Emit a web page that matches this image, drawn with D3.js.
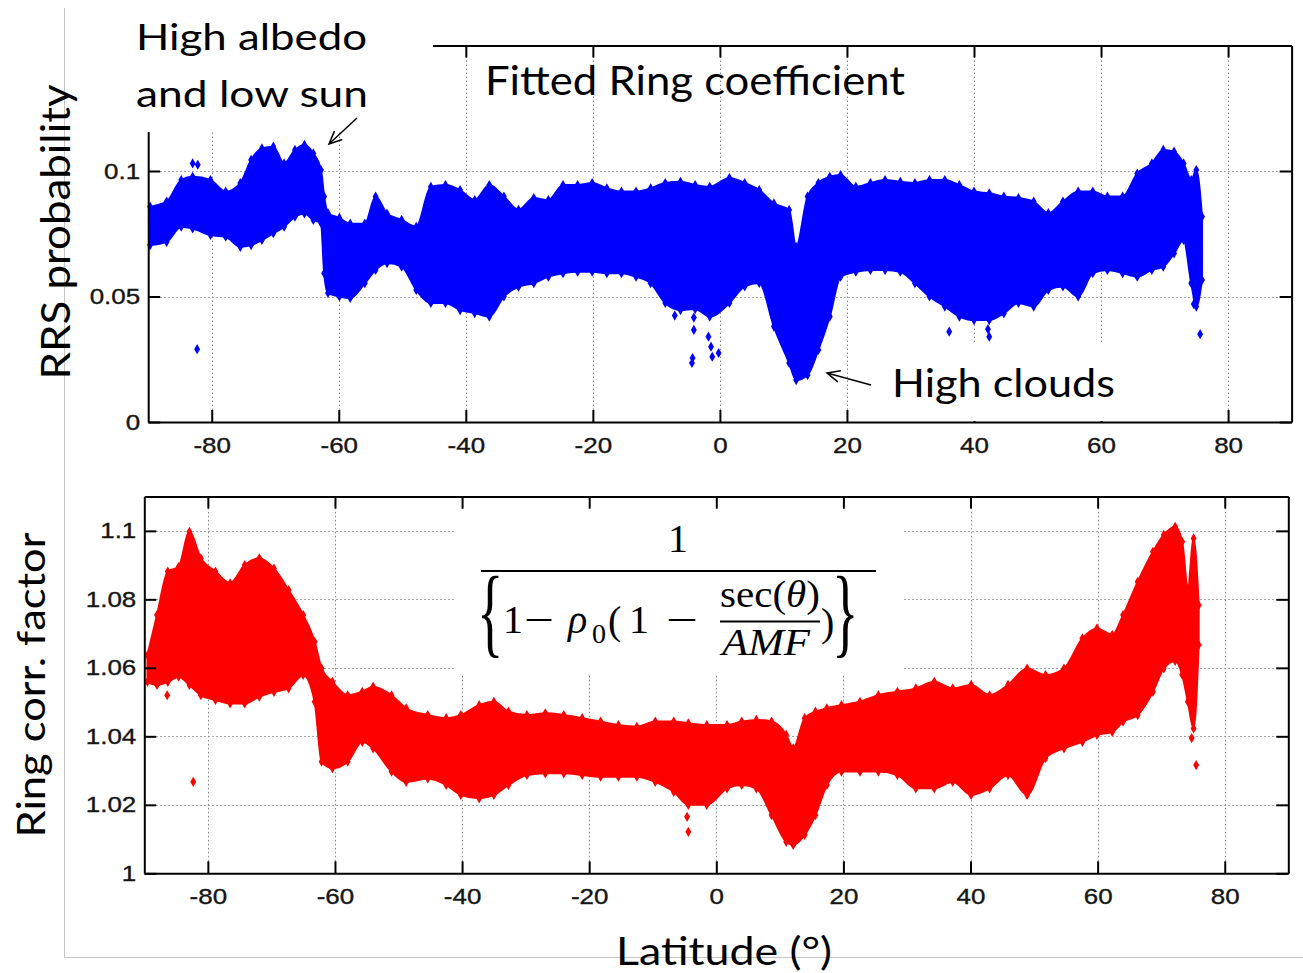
<!DOCTYPE html>
<html><head><meta charset="utf-8">
<script src="https://cdn.jsdelivr.net/npm/d3@7"></script>
<style>body{margin:0;background:#fff}svg{display:block}</style>
</head><body>
<svg id="c" width="1303" height="973"></svg>
<script>
// ---------- data ----------
const xTicks = [-80, -60, -40, -20, 0, 20, 40, 60, 80];
const rrsTicks = [0, 0.05, 0.1];
const ringTicks = [1, 1.02, 1.04, 1.06, 1.08, 1.1];

// Fitted Ring coefficient (RRS probability): envelope of the point cloud
const rrsLat  = [-89.7,-87.1,-84.8,-83.0,-80.2,-77.8,-75.5,-73.8,-72.1,-70.3,-68.6,-66.9,-65.4,-64.0,-62.8,-62.3,-61.7,-59.9,-58.2,-55.9,-54.2,-52.4,-50.1,-47.8,-45.5,-43.2,-40.9,-38.6,-36.3,-34.0,-31.7,-29.3,-27.0,-24.7,-22.4,-20.1,-17.8,-15.5,-13.2,-10.9,-8.6,-6.2,-3.9,-1.6,1.5,3.9,6.2,8.5,10.9,12.0,13.8,15.5,17.3,19.0,21.4,23.7,26.0,28.4,30.7,33.0,35.4,37.7,40.0,42.4,44.7,47.0,49.4,51.7,54.0,56.4,58.7,61.0,63.4,65.7,68.0,69.8,71.5,73.0,74.2,75.0,75.9];
const rrsHigh = [0.0858,0.0878,0.0964,0.0977,0.0964,0.0918,0.0952,0.1044,0.109,0.1097,0.103,0.1084,0.1104,0.107,0.1004,0.0898,0.0832,0.0813,0.079,0.079,0.0898,0.083,0.0805,0.0778,0.0937,0.0944,0.0924,0.0884,0.0944,0.0898,0.0845,0.0892,0.0884,0.0944,0.0944,0.0952,0.0931,0.0918,0.0918,0.0931,0.0952,0.0957,0.0944,0.0937,0.0972,0.0952,0.0924,0.0871,0.0845,0.0698,0.0898,0.0952,0.0977,0.0984,0.0937,0.0952,0.0964,0.0957,0.0952,0.0964,0.0964,0.0944,0.0918,0.0911,0.0898,0.0892,0.0878,0.0832,0.0878,0.0918,0.0918,0.0898,0.0898,0.099,0.103,0.1084,0.1077,0.103,0.0964,0.1004,0.0818];
const rrsLow  = [0.0705,0.0718,0.0778,0.0771,0.0745,0.0738,0.0698,0.0705,0.0725,0.0752,0.0778,0.0818,0.0831,0.0805,0.0793,0.0593,0.0514,0.05,0.0494,0.0553,0.0606,0.0633,0.0619,0.0526,0.0474,0.0474,0.0446,0.0434,0.042,0.05,0.0539,0.0553,0.0579,0.0593,0.0599,0.0599,0.0593,0.0593,0.0579,0.0553,0.0474,0.0446,0.045,0.042,0.0474,0.054,0.0554,0.038,0.0235,0.0167,0.0187,0.0287,0.042,0.0579,0.0599,0.0606,0.0606,0.0599,0.0553,0.05,0.046,0.042,0.0406,0.0406,0.0433,0.0474,0.046,0.0526,0.054,0.05,0.0593,0.0606,0.0593,0.0579,0.0606,0.0619,0.0672,0.0725,0.0553,0.046,0.0566];
// isolated points
const rrsOutLat = [-82.3,-83.0,-82.2,-7.1,-4.1,-4.1,-4.3,-4.4,-1.8,-1.4,-1.2,-0.2,36.1,42.4,42.2,75.6,74.6];
const rrsOutVal = [0.029,0.103,0.1025,0.0424,0.0416,0.0367,0.0255,0.0235,0.034,0.030,0.026,0.0275,0.036,0.034,0.037,0.035,0.047];

// Ring correction factor: envelope of the point cloud
const ringLat  = [-89.5,-88.0,-86.3,-84.6,-82.9,-81.1,-78.8,-76.5,-74.2,-71.9,-69.6,-67.3,-65.0,-63.2,-62.1,-60.4,-58.0,-55.7,-54.0,-51.1,-48.8,-45.4,-42.5,-40.2,-37.3,-35.0,-32.7,-29.8,-26.9,-24.0,-21.1,-18.2,-15.4,-12.5,-9.6,-6.7,-4.4,-1.5,1.7,4.0,6.3,8.7,11.0,12.1,13.9,15.6,17.4,19.7,22.6,25.5,28.5,31.4,34.3,37.2,40.1,43.0,45.9,48.9,51.8,54.7,57.6,59.9,62.3,64.0,66.3,68.7,70.4,72.2,73.3,74.2,75.1,75.9];
const ringHigh = [1.0637,1.0754,1.0881,1.0895,1.0997,1.092,1.0881,1.0847,1.09,1.092,1.089,1.0827,1.0754,1.0676,1.0598,1.0559,1.052,1.053,1.0545,1.052,1.0482,1.0462,1.0453,1.0462,1.0491,1.0501,1.0472,1.0462,1.0467,1.0462,1.0453,1.0443,1.0433,1.0428,1.0443,1.0443,1.0438,1.0433,1.0433,1.0443,1.0448,1.0443,1.0404,1.0365,1.0453,1.0472,1.0482,1.0491,1.0501,1.052,1.053,1.054,1.0559,1.054,1.055,1.052,1.055,1.0598,1.0579,1.0598,1.0686,1.0715,1.0696,1.0754,1.0851,1.0939,1.0988,1.1012,1.0968,1.0832,1.0978,1.0783];
const ringLow  = [1.0559,1.055,1.0559,1.0574,1.055,1.052,1.0506,1.0496,1.0496,1.0516,1.053,1.054,1.0579,1.0501,1.0326,1.0307,1.0326,1.0384,1.0365,1.0297,1.0267,1.0277,1.0258,1.0229,1.0219,1.0229,1.0258,1.0287,1.0292,1.0292,1.0287,1.0282,1.0282,1.0282,1.0267,1.0238,1.020,1.020,1.0248,1.0258,1.0248,1.017,1.0092,1.0083,1.0112,1.017,1.0258,1.0297,1.0297,1.0297,1.0287,1.0248,1.0248,1.0267,1.0229,1.0248,1.0287,1.0229,1.0336,1.0365,1.0384,1.0404,1.0413,1.0443,1.0462,1.053,1.0598,1.062,1.058,1.0501,1.0423,1.0667];
const ringOutLat = [-82.3,-86.4,-4.4,-4.6,75.5,74.8];
const ringOutVal = [1.0267,1.052,1.0121,1.0165,1.0316,1.0395];

// ---------- drawing ----------
const svg = d3.select('#c');
const SANS = 'Lato, "Open Sans", sans-serif';
const TICKF = '"Liberation Sans", Arial, sans-serif';
const SERIF = '"Liberation Serif", "DejaVu Serif", serif';

svg.append('rect').attr('width',1303).attr('height',973).attr('fill','#fff');

// light frame of the slide picture
svg.append('line').attr('x1',64.5).attr('x2',64.5).attr('y1',8).attr('y2',958).attr('stroke','#c4c4c4').attr('stroke-width',1);
svg.append('line').attr('x1',64).attr('x2',1303).attr('y1',957.5).attr('y2',957.5).attr('stroke','#c4c4c4').attr('stroke-width',1);

function panel(cfg) {
  const {x, y, yTicks, lat, lo, hi, outLat, outVal, color, fmt} = cfg;
  const g = svg.append('g');
  const [xa, xb] = x.range(), [ya, yb] = y.range();
  // grid
  const grid = g.append('g').attr('stroke','#8a8a8a').attr('stroke-width',1).attr('stroke-dasharray','1.5,2.5');
  grid.selectAll('.gx').data(xTicks).join('line')
    .attr('x1', d => Math.round(x(d))+0.5).attr('x2', d => Math.round(x(d))+0.5).attr('y1', ya).attr('y2', yb);
  grid.selectAll('.gy').data(yTicks.filter(d => d !== y.domain()[0])).join('line')
    .attr('y1', d => Math.round(y(d))+0.5).attr('y2', d => Math.round(y(d))+0.5).attr('x1', xa).attr('x2', xb);
  // point cloud
  const pts = lat.map((d,i) => ({lat:d, lo:lo[i], hi:hi[i]}));
  const area = d3.area().x(d => x(d.lat)).y0(d => y(d.lo)).y1(d => y(d.hi)).curve(d3.curveMonotoneX);
  g.append('path').datum(pts).attr('d', area).attr('fill', color).attr('stroke', color).attr('stroke-width', 2);
  const sym = d3.symbol().type(d3.symbolDiamond).size(30);
  const edge = [];
  pts.forEach(p => { edge.push([p.lat, p.lo]); edge.push([p.lat, p.hi]); });
  outLat.forEach((d,i) => edge.push([d, outVal[i]]));
  g.selectAll('.pt').data(edge).join('path')
    .attr('d', sym).attr('fill', color)
    .attr('transform', d => `translate(${x(d[0])},${y(d[1])})`);
  // axes
  const style = (a) => {
    a.select('.domain').attr('stroke','#000').attr('stroke-width',2);
    a.selectAll('.tick line').attr('stroke','#000').attr('stroke-width',2);
    a.selectAll('text').attr('font-family',TICKF).attr('font-size',22).attr('fill','#151515')
      .attr('stroke','#151515').attr('stroke-width',0.35);
  };
  const bottom = g.append('g').attr('transform',`translate(0,${ya})`)
    .call(d3.axisBottom(x).tickValues(xTicks).tickSizeInner(-12).tickSizeOuter(0).tickPadding(15).tickFormat(d3.format('d')))
    .call(style);
  g.append('g').attr('transform',`translate(${xa},0)`)
    .call(d3.axisLeft(y).tickValues(yTicks).tickSizeInner(-12).tickSizeOuter(0).tickPadding(8).tickFormat(fmt))
    .call(style);
  g.append('g').attr('transform',`translate(0,${yb})`)
    .call(d3.axisTop(x).tickValues(xTicks).tickSizeInner(-12).tickSizeOuter(0).tickFormat(''))
    .call(style);
  g.append('g').attr('transform',`translate(${xb},0)`)
    .call(d3.axisRight(y).tickValues(yTicks).tickSizeInner(-12).tickSizeOuter(0).tickFormat(''))
    .call(style);
  bottom.selectAll('.tick text').text(function(){ return d3.select(this).text().replace('\u2212','-'); });
  // widen labels (reference digits are broader than Arial)
  g.selectAll('.tick text').each(function(){
    const t = d3.select(this);
    if (!t.text()) return;
    const w = this.getComputedTextLength();
    t.attr('textLength', w*1.18).attr('lengthAdjust','spacingAndGlyphs');
  });
  return g;
}

const xTop = d3.scaleLinear().domain([-90, 90]).range([148.2, 1291.6]);
const yTop = d3.scaleLinear().domain([0, 0.15]).range([422, 45.5]);
const xBot = d3.scaleLinear().domain([-90, 90]).range([144.3, 1288.3]);
const yBot = d3.scaleLinear().domain([1, 1.11]).range([873.3, 496.6]);

panel({x:xTop, y:yTop, yTicks:rrsTicks, lat:rrsLat, lo:rrsLow, hi:rrsHigh, outLat:rrsOutLat, outVal:rrsOutVal,
       color:'#0000ff', fmt:d => d === 0 ? '0' : String(d)});
panel({x:xBot, y:yBot, yTicks:ringTicks, lat:ringLat, lo:ringLow, hi:ringHigh, outLat:ringOutLat, outVal:ringOutVal,
       color:'#ff0000', fmt:d => d === 1 ? '1' : String(+d.toFixed(2))});

// white boxes of the overlaid text annotations
svg.append('rect').attr('x',66).attr('y',0).attr('width',367).attr('height',132).attr('fill','#fff');
svg.append('rect').attr('x',870).attr('y',342).attr('width',269).attr('height',79).attr('fill','#fff');
svg.append('rect').attr('x',456).attr('y',509).attr('width',447).attr('height',166).attr('fill','#fff');

function label(txt, x, y, size, width, rot) {
  const t = svg.append('text').attr('font-family',SANS).attr('font-size',size).attr('fill','#000').text(txt);
  if (rot) t.attr('transform',`translate(${x},${y}) rotate(-90)`).attr('text-anchor','middle');
  else t.attr('x',x).attr('y',y);
  if (width) t.attr('textLength',width).attr('lengthAdjust','spacingAndGlyphs');
  return t;
}
label('High albedo', 136, 50, 36, 231);
label('and low sun', 136, 107, 36, 232);
label('Fitted Ring coefficient', 485, 95, 41, 420);
label('High clouds', 892, 397, 39, 223);
label('Latitude (°)', 616, 965, 39, 216);
label('RRS probability', 70, 232, 40, 295, true);
label('Ring corr. factor', 45, 685, 39, 305, true);

// arrows
function arrow(x1, y1, x2, y2) {
  const a = Math.atan2(y2-y1, x2-x1), L = 14, s = 0.42;
  const p = `M${x1},${y1}L${x2},${y2}M${x2-L*Math.cos(a-s)},${y2-L*Math.sin(a-s)}L${x2},${y2}L${x2-L*Math.cos(a+s)},${y2-L*Math.sin(a+s)}`;
  svg.append('path').attr('d',p).attr('fill','none').attr('stroke','#000').attr('stroke-width',1.5);
}
arrow(357, 118, 329, 144);
arrow(871, 385, 827, 373);

// formula
const F = svg.append('g').attr('font-family',SERIF).attr('fill','#000');
F.append('text').attr('x',678).attr('y',552).attr('font-size',40).attr('text-anchor','middle').text('1');
F.append('line').attr('x1',481).attr('x2',876).attr('y1',571).attr('y2',571).attr('stroke','#000').attr('stroke-width',2.2);
F.append('text').attr('transform','translate(477,645) scale(0.55,1)').attr('font-size',100).text('{');
F.append('text').attr('x',503).attr('y',633).attr('font-size',40).text('1');
F.append('text').attr('x',539).attr('y',633).attr('font-size',40).attr('text-anchor','middle')
  .attr('textLength',30).attr('lengthAdjust','spacingAndGlyphs').text('\u2212');
F.append('text').attr('x',568).attr('y',633).attr('font-size',40).attr('font-style','italic').text('\u03c1');
F.append('text').attr('x',592).attr('y',643).attr('font-size',28).text('0');
F.append('text').attr('x',608).attr('y',634).attr('font-size',40).text('(');
F.append('text').attr('x',629).attr('y',633).attr('font-size',40).text('1');
F.append('text').attr('x',682).attr('y',633).attr('font-size',40).attr('text-anchor','middle')
  .attr('textLength',32).attr('lengthAdjust','spacingAndGlyphs').text('\u2212');
const sec = F.append('text').attr('x',770).attr('y',607).attr('font-size',38).attr('text-anchor','middle')
  .attr('textLength',100).attr('lengthAdjust','spacingAndGlyphs');
sec.append('tspan').text('sec(');
sec.append('tspan').attr('font-style','italic').text('\u03b8');
sec.append('tspan').text(')');
F.append('line').attr('x1',720).attr('x2',820).attr('y1',621.5).attr('y2',621.5).attr('stroke','#000').attr('stroke-width',2);
F.append('text').attr('x',766).attr('y',655).attr('font-size',38).attr('font-style','italic').attr('text-anchor','middle')
  .attr('textLength',88).attr('lengthAdjust','spacingAndGlyphs').text('AMF');
F.append('text').attr('x',821).attr('y',636).attr('font-size',40).text(')');
F.append('text').attr('transform','translate(832,645) scale(0.55,1)').attr('font-size',100).text('}');
</script>
</body></html>
